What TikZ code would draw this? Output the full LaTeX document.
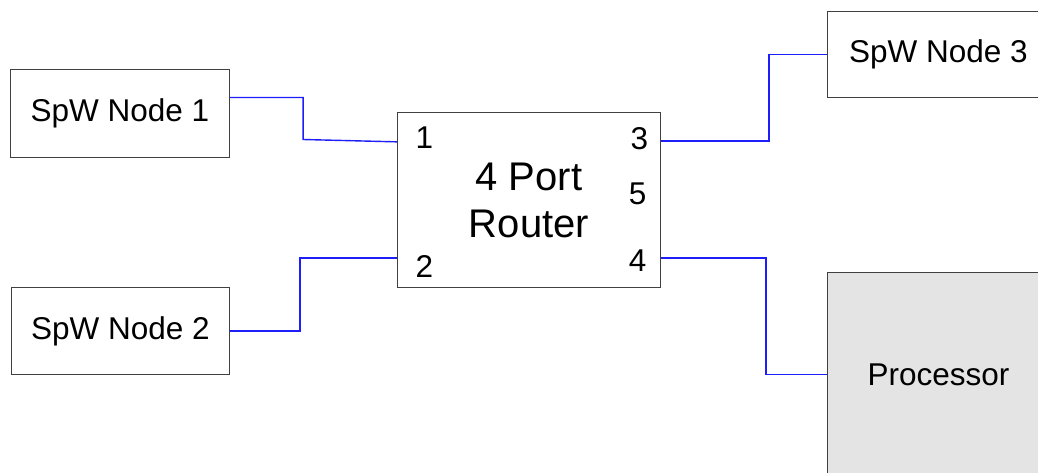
\documentclass[tikz,border=0pt]{standalone}
\usepackage{fontspec}
\setmainfont{Liberation Sans}
\usetikzlibrary{calc}
\definecolor{linkblue}{RGB}{30,30,250}
\definecolor{boxgray}{RGB}{64,64,64}
\definecolor{procfill}{RGB}{228,228,228}
\tikzset{
  box/.style={draw=boxgray, line width=1.3pt, fill=white, inner sep=0pt,
    font=\fontsize{31.5}{36}\selectfont},
  portlbl/.style={inner sep=0pt, font=\fontsize{31.5}{36}\selectfont},
  link/.style={draw=linkblue, line width=1.4pt},
}
\begin{document}
\begin{tikzpicture}[x=1pt,y=-1pt]
\fill[white] (0,0) rectangle (1038,473);
\useasboundingbox (0,0) rectangle (1038,473);
\clip (0,0) rectangle (1038,473);
\begin{scope}[shift={(0.5,0.5)}]
% nodes
\node[box, minimum width=219pt, minimum height=88pt] (n1) at (119.5,113) {SpW Node 1};
\node[box, minimum width=218pt, minimum height=87pt] (n2) at (120,330.5) {SpW Node 2};
\node[box, minimum width=222pt, minimum height=86pt] (n3) at (938,54) {SpW Node 3};
\node[box, fill=procfill, minimum width=240pt, minimum height=204pt,
  label={[portlbl, xshift=-9pt]center:Processor}] (proc) at (947,374) {};
\node[box, minimum width=263pt, minimum height=175pt, align=center,
  font=\fontsize{40}{47}\selectfont] (router) at (528.5,199.5) {4 Port\\Router};
% port labels
\node[portlbl] (p1) at (424,137) {1};
\node[portlbl] (p2) at (424,266) {2};
\node[portlbl] (p3) at (639,138) {3};
\node[portlbl] (p5) at (637,193) {5};
\node[portlbl] (p4) at (637,260) {4};
% port attachment points
\coordinate (r1) at ($(router.north west)+(0,30)$);
\coordinate (r2) at ($(router.north west)+(0,146)$);
\coordinate (r3) at ($(router.north east)+(0,29)$);
\coordinate (r4) at ($(router.north east)+(0,146)$);
% connectors
\draw[link] ($(n1.east)+(0,-16)$) -| ($(n1.east)+(73,26)$) -- (r1);
\draw[link] (n2.east) -| ($(r2)+(-97,0)$) -- (r2);
\draw[link] (r3) -| ($(n3.west)+(-58,0)$) -- (n3.west);
\draw[link] (r4) -| ($(proc.west)+(-61,0)$) -- (proc.west);
\end{scope}
\end{tikzpicture}
\end{document}
